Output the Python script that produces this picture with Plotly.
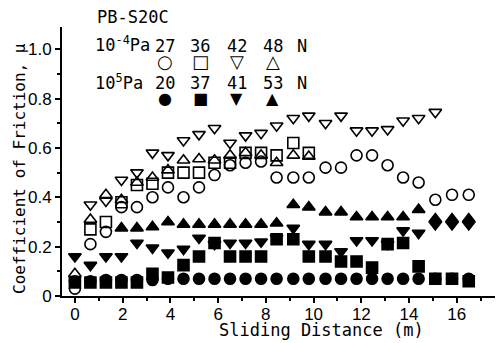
import plotly.graph_objects as go

# Sliding distance (m) at which each friction reading was taken
distance = [0, 0.65, 1.3, 1.95, 2.6, 3.25, 3.9, 4.55, 5.2, 5.85, 6.5, 7.15, 7.8,
            8.45, 9.15, 9.8, 10.5, 11.15, 11.8, 12.45, 13.1, 13.75, 14.4, 15.1,
            15.8, 16.5]

# Coefficient of friction, vacuum (10^-4 Pa), loads 27/36/42/48 N
mu_vac_27 = [0.03, 0.21, 0.26, 0.36, 0.36, 0.40, 0.44, 0.40, 0.44, 0.49, 0.53, 0.54,
             0.545, 0.48, 0.48, 0.48, 0.52, 0.52, 0.57, 0.57, 0.53, 0.48, 0.46,
             0.39, 0.41, 0.41]
mu_vac_36 = [None, 0.27, 0.30, 0.38, 0.45, 0.455, 0.50, 0.50, 0.50, 0.54, 0.54, 0.58,
             0.58, 0.57, 0.62, 0.58, None, None, None, None, None, None, None,
             None, None, None]
mu_vac_42 = [None, 0.37, 0.385, 0.47, 0.50, 0.58, 0.57, 0.63, 0.655, 0.68, 0.62,
             0.65, 0.66, 0.69, 0.72, 0.73, 0.70, 0.73, 0.67, 0.67, 0.675, 0.71,
             0.72, 0.745, None, None]
mu_vac_48 = [0.09, 0.31, 0.41, 0.39, 0.46, 0.48, 0.51, 0.55, 0.555, 0.55, 0.57,
             0.58, 0.57, 0.54, 0.57, 0.565, None, None, None, None, None, None,
             None, None, None, None]

# Coefficient of friction, atmosphere (10^5 Pa), loads 20/37/41/53 N
mu_air_20 = [0.06, 0.06, 0.065, 0.065, 0.065, 0.065, 0.07, 0.07, 0.07, 0.07, 0.07,
             0.07, 0.07, 0.07, 0.07, 0.07, 0.07, 0.07, 0.07, 0.07, 0.07, 0.07,
             0.07, 0.07, 0.07, 0.07]
mu_air_37 = [0.055, 0.055, 0.055, 0.055, 0.055, 0.09, 0.075, 0.125, 0.16, 0.215,
             0.16, 0.16, 0.16, 0.23, 0.23, 0.16, 0.16, 0.14, 0.14, 0.115, 0.21,
             0.215, 0.12, 0.07, 0.07, 0.06]
mu_air_41 = [0.16, 0.125, 0.16, 0.16, 0.215, 0.195, 0.175, 0.19, 0.235, 0.21, 0.215,
             0.215, 0.22, 0.235, 0.275, 0.21, 0.21, 0.18, 0.225, 0.225, 0.21,
             0.265, 0.255, 0.29, 0.29, 0.29]
mu_air_53 = [None, None, None, 0.275, 0.275, 0.28, 0.30, 0.29, 0.29, 0.29, 0.29,
             0.29, 0.29, 0.295, 0.37, 0.36, 0.34, 0.34, 0.32, 0.32, 0.32, 0.32,
             0.35, 0.312, 0.312, 0.312]

x_ticks = [0, 2, 4, 6, 8, 10, 12, 14, 16]
y_ticks = [0, 0.2, 0.4, 0.6, 0.8, 1.0]
y_tick_text = ["0", "0.2", "0.4", "0.6", "0.8", "1.0"]

vac_loads = ["27", "36", "42", "48"]
air_loads = ["20", "37", "41", "53"]
vac_glyphs = ["○", "□", "▽", "△"]
air_glyphs = ["●", "■", "▼", "▲"]

series = [
    (mu_vac_27, "circle-open"), (mu_vac_36, "square-open"),
    (mu_vac_42, "triangle-down-open"), (mu_vac_48, "triangle-up-open"),
    (mu_air_20, "circle"), (mu_air_37, "square"),
    (mu_air_41, "triangle-down"), (mu_air_53, "triangle-up"),
]

fig = go.Figure()
for values, symbol in series:
    fig.add_trace(go.Scatter(
        x=distance, y=values, mode="markers", showlegend=False,
        marker=dict(symbol=symbol, size=11, color="black",
                    line=dict(color="black", width=1.6)),
    ))

mono = "DejaVu Sans Mono"
sans = "Liberation Sans"


def label(text, x, y, size=17, family=mono, anchor="center", angle=0):
    return dict(text=text, x=x, y=y, xref="paper", yref="paper", showarrow=False,
                xanchor=anchor, yanchor="middle", textangle=angle,
                font=dict(family=family, size=size, color="black"))


annotations = [
    label("Sliding Distance (m)", 0.60, -0.126),
    label("Coefficient of Friction, μ", -0.097, 0.476, size=16, angle=-90),
    label("PB-S20C", 0.076, 1.037, anchor="left"),
    label("10<sup>-4</sup>Pa", 0.0716, 0.935, anchor="left"),
    label("10<sup>5</sup>Pa", 0.0716, 0.797, anchor="left"),
]

col_x = [0.238, 0.319, 0.404, 0.487]
for cx, load, glyph in zip(col_x, vac_loads, vac_glyphs):
    annotations.append(label(load, cx, 0.929))
    annotations.append(label(glyph, cx, 0.870, size=18, family="DejaVu Sans"))
for cx, load, glyph in zip(col_x, air_loads, air_glyphs):
    annotations.append(label(load, cx, 0.791))
    annotations.append(label(glyph, cx, 0.736, size=16, family="DejaVu Sans"))
annotations.append(label("N", 0.554, 0.929))
annotations.append(label("N", 0.554, 0.791))

axis_common = dict(showgrid=False, zeroline=False, showline=True, linecolor="black",
                   linewidth=2, ticks="outside", ticklen=5, tickwidth=1.5,
                   tickcolor="black",
                   tickfont=dict(family=sans, size=17, color="black"))

fig.update_layout(
    width=497, height=343,
    margin=dict(l=62, r=2, t=27, b=47),
    paper_bgcolor="white", plot_bgcolor="white",
    annotations=annotations,
    xaxis=dict(range=[-0.54, 17.6], tickvals=x_ticks, ticklabelstandoff=-3,
               minor=dict(dtick=1, ticks="outside", ticklen=3, tickcolor="black"),
               **axis_common),
    yaxis=dict(range=[0, 1.09], tickvals=y_ticks, ticktext=y_tick_text,
               minor=dict(dtick=0.1, ticks="outside", ticklen=3, tickcolor="black"),
               **axis_common),
)

fig.write_html("out.html")
